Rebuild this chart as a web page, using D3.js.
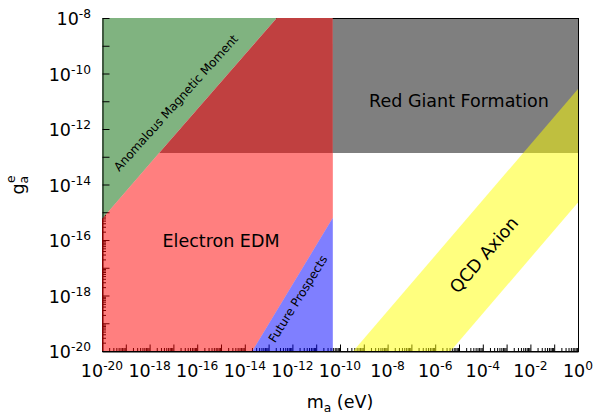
<!DOCTYPE html>
<html>
<head>
<meta charset="utf-8">
<script src="https://cdn.jsdelivr.net/npm/d3@7"></script>
<style>
  body { margin: 0; background: #fff; }
  text { font-family: "DejaVu Sans", sans-serif; fill: #000; }
</style>
</head>
<body>
<script>
// axis ranges (eV and coupling)
var massDomain = [1e-20, 1];
var couplingDomain = [1e-20, 1e-8];
var massLabelExps = [-20, -18, -16, -14, -12, -10, -8, -6, -4, -2, 0];
var couplingLabelExps = [-8, -10, -12, -14, -16, -18, -20];

// excluded / predicted regions, [mass, coupling] corners
var anomalousMoment = [[1e-20, 5.75e-16], [2.5e-18, 1.36e-13], [2.2e-13, 1e-8], [1e-20, 1e-8]];
var edmOverlap = [[2.5e-18, 1.36e-13], [2.2e-13, 1e-8], [5e-11, 1e-8], [5e-11, 1.36e-13]];
var electronEDM = [[1e-20, 1e-20], [1e-20, 5.75e-16], [2.5e-18, 1.36e-13], [5e-11, 1.36e-13], [5e-11, 6.3e-16], [2.07e-14, 1e-20]];
var futureProspects = [[2.07e-14, 1e-20], [5e-11, 6.3e-16], [5e-11, 1e-20]];
var redGiant = [[5e-11, 1.36e-13], [5e-11, 1e-8], [1, 1e-8], [1, 1.36e-13]];
var qcdAxion = [[3.63e-10, 1e-20], [1, 2.75e-11], [1, 2.24e-15], [4.47e-6, 1e-20]];

var w = 595, h = 414;
var padL = 102, padR = 578, padT = 18, padB = 351;

var svg = d3.select("body").append("svg").attr("width", w).attr("height", h);

var xScale = d3.scaleLog().domain(massDomain).range([padL, padR]);
var yScale = d3.scaleLog().domain(couplingDomain).range([padB, padT]);

svg.append("clipPath").attr("id", "plot")
    .append("rect")
    .attr("x", padL).attr("y", padT)
    .attr("width", padR - padL).attr("height", padB - padT);

// tick values
var xMajor = d3.range(-20, 1).map(e => Math.pow(10, e));
var yMajor = d3.range(-20, -7).map(e => Math.pow(10, e));
var xMinor = [], yMinor = [];
d3.range(-20, 0).forEach(e => { for (var j = 2; j < 10; j++) xMinor.push(j * Math.pow(10, e)); });
d3.range(-20, -8).forEach(e => { for (var j = 2; j < 10; j++) yMinor.push(j * Math.pow(10, e)); });

// frame
svg.append("rect")
    .attr("x", padL + 0.5).attr("y", padT + 0.5)
    .attr("width", padR - padL).attr("height", padB - padT)
    .attr("fill", "none").attr("stroke", "#000");

// minor ticks (inward)
svg.append("g")
    .attr("transform", "translate(0," + (padB + 0.5) + ")")
    .call(d3.axisBottom(xScale).tickValues(xMinor).tickSize(-3.5).tickFormat(""))
    .call(g => g.select(".domain").remove());
svg.append("g")
    .attr("transform", "translate(" + (padL + 0.5) + ",0)")
    .call(d3.axisLeft(yScale).tickValues(yMinor).tickSize(-3.5).tickFormat(""))
    .call(g => g.select(".domain").remove());

var line = d3.line().x(d => xScale(d[0])).y(d => yScale(d[1]));

function region(pts, color) {
    svg.append("path")
        .attr("d", line(pts) + "Z")
        .attr("fill", color)
        .attr("clip-path", "url(#plot)");
}

region(anomalousMoment, "#80b380");
region(edmOverlap, "#c04040");

// major ticks and spines
svg.append("g")
    .attr("transform", "translate(0," + (padB + 0.5) + ")")
    .call(d3.axisBottom(xScale).tickValues(xMajor).tickSize(-7).tickSizeOuter(0).tickFormat(""));
svg.append("g")
    .attr("transform", "translate(" + (padL + 0.5) + ",0)")
    .call(d3.axisLeft(yScale).tickValues(yMajor).tickSize(-7).tickSizeOuter(0).tickFormat(""));

region(electronEDM, "rgba(255,0,0,0.5)");
region(futureProspects, "rgba(0,0,255,0.5)");
region(redGiant, "rgba(0,0,0,0.5)");
region(qcdAxion, "rgba(255,255,0,0.5)");

// tick labels with superscript exponents
var xl = svg.selectAll(".xl").data(massLabelExps).enter()
    .append("text")
    .attr("x", d => xScale(Math.pow(10, d)))
    .attr("y", 377)
    .attr("text-anchor", "middle")
    .attr("font-size", "17.5px");
xl.append("tspan").text("10");
xl.append("tspan").attr("dy", -7).attr("font-size", "12.25px").text(d => d === 0 ? "0" : "-" + Math.abs(d));

var yl = svg.selectAll(".yl").data(couplingLabelExps).enter()
    .append("text")
    .attr("x", 91)
    .attr("y", d => yScale(Math.pow(10, d)) + 7)
    .attr("text-anchor", "end")
    .attr("font-size", "17.5px");
yl.append("tspan").text("10");
yl.append("tspan").attr("dy", -7).attr("font-size", "12.25px").text(d => "-" + Math.abs(d));

// axis titles
var xt = svg.append("text")
    .attr("x", 340).attr("y", 408)
    .attr("text-anchor", "middle")
    .attr("font-size", "17.5px");
xt.append("tspan").text("m");
xt.append("tspan").attr("dy", 4).attr("font-size", "12.25px").text("a");
xt.append("tspan").attr("dy", -4).text(" (eV)");

var yt = svg.append("text")
    .attr("transform", "translate(24,185) rotate(-90)")
    .attr("text-anchor", "middle")
    .attr("font-size", "17.5px");
yt.append("tspan").text("g");
yt.append("tspan").attr("dy", 4).attr("font-size", "12.25px").text("a");
yt.append("tspan").attr("dx", -7).attr("dy", -13).attr("font-size", "12.25px").text("e");

// region labels
function label(txt, cx, cy, angle, size) {
    svg.append("text")
        .attr("transform", "translate(" + cx + "," + cy + ") rotate(" + angle + ")")
        .attr("text-anchor", "middle")
        .attr("dominant-baseline", "central")
        .attr("font-size", size)
        .text(txt);
}

label("Anomalous Magnetic Moment", 176, 103, -48, "12px");
label("Electron EDM", 221, 241, 0, "17.5px");
label("Red Giant Formation", 459, 101, 0, "17.5px");
label("Future Prospects", 298, 299, -58, "12px");
label("QCD Axion", 484, 255, -49, "17.5px");
</script>
</body>
</html>
